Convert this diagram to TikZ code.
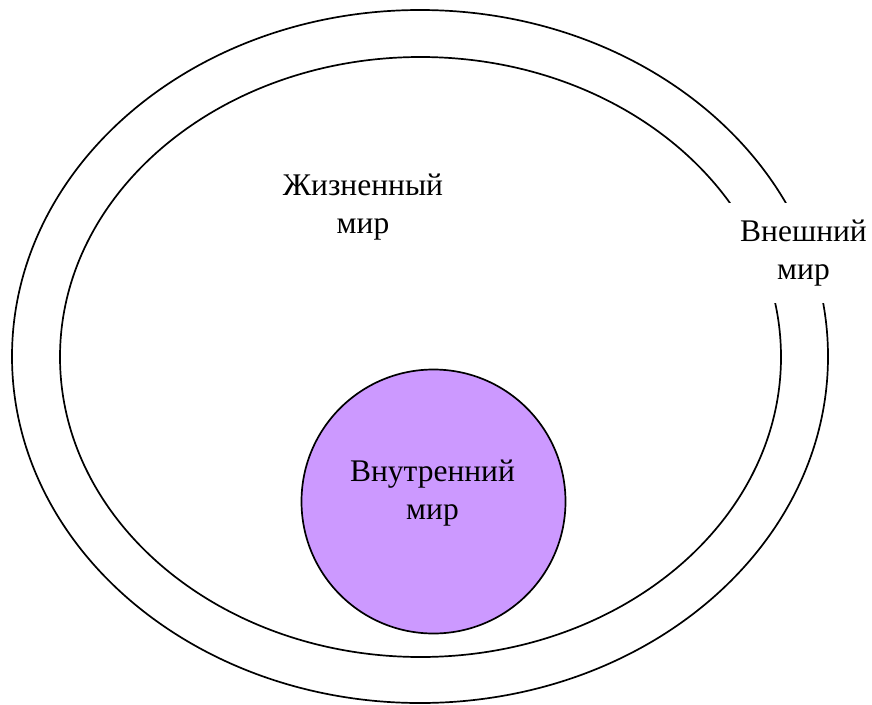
\documentclass[tikz,border=0pt]{standalone}
\usepackage{fontspec}
\setmainfont{Liberation Serif}
\usetikzlibrary{shapes.geometric}
\definecolor{innerfill}{HTML}{CC99FF}
\begin{document}
\begin{tikzpicture}[x=1pt,y=-1pt,
  ring/.style={ellipse, draw=black, line width=1.7pt, inner sep=0pt},
  label/.style={align=center, font=\fontsize{31.5}{37.5}\selectfont, inner sep=0pt}]
  \useasboundingbox (0,0) rectangle (872,704);
  % outer world and life world
  \node[ring, minimum width=816pt, minimum height=693pt] (outer) at (420,356.5) {};
  \node[ring, minimum width=721pt, minimum height=600pt] (life) at (420.5,357) {};
  % inner world
  \node[circle, draw=black, fill=innerfill, line width=1.7pt, inner sep=0pt,
        minimum size=264pt] (inner) at (433.5,501.5) {};
  % labels
  \node[label] (lifelabel) at (363,207) {Жизненный\\мир};
  \node[label] (innerlabel) at (432.5,493) {Внутренний\\мир};
  \node[label, fill=white, inner xsep=18pt, inner ysep=17pt] (outerlabel) at (803.5,253) {Внешний\\мир};
\end{tikzpicture}
\end{document}
